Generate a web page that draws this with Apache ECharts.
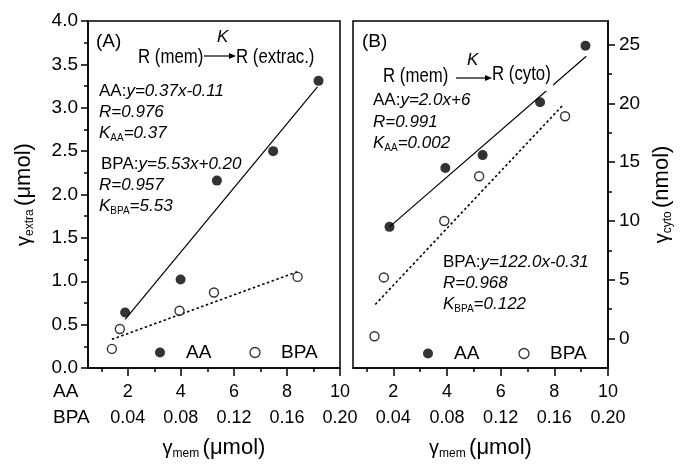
<!DOCTYPE html>
<html>
<head>
<meta charset="utf-8">
<script src="https://cdn.jsdelivr.net/npm/echarts@6/dist/echarts.min.js"></script>
<style>
  html, body { margin: 0; padding: 0; background: #fff; }
  #chart { width: 682px; height: 465px; }
</style>
</head>
<body>
<div id="chart"></div>
<script>
// x ticks (AA row and BPA row)
const aaTicks = [2, 4, 6, 8, 10]
const aaMinor = [1, 3, 5, 7, 9]
const bpaTicks = ['0.04', '0.08', '0.12', '0.16', '0.20']
// right y axis of panel B
const cytoTicks = [0, 5, 10, 15, 20, 25]
const cytoMinor = [2.5, 7.5, 12.5, 17.5, 22.5]

// panel A: extracellular
const aaXA = [1.90, 3.99, 5.36, 7.48, 9.19]
const aaYA = [0.64, 1.02, 2.16, 2.50, 3.31]
const bpaXA = [0.028, 0.034, 0.079, 0.105, 0.168]
const bpaYA = [0.22, 0.45, 0.66, 0.87, 1.05]
const aaFitXA = [1.90, 9.15]
const aaFitYA = [0.56, 3.24]
const bpaFitXA = [0.028, 0.168]
const bpaFitYA = [0.33, 1.11]

// panel B: cytoplasm
const aaXB = [1.86, 3.94, 5.33, 7.47, 9.16]
const aaYB = [9.5, 14.5, 15.6, 20.1, 24.9]
const bpaXB = [0.026, 0.033, 0.078, 0.104, 0.168]
const bpaYB = [0.2, 5.2, 10.0, 13.8, 18.9]
const aaFitXB = [1.86, 9.19]
const aaFitYB = [9.5, 24.0]
const bpaFitXB = [0.0266, 0.166]
const bpaFitYB = [2.9, 19.8]

const FONT = "'Liberation Sans', Arial, sans-serif"

function pairs(xs, ys) {
  return xs.map((x, i) => [x, ys[i]])
}

function xLabel(v) {
  const i = aaTicks.indexOf(v)
  return i < 0 ? '' : aaTicks[i] + '\n' + bpaTicks[i]
}

// axis name rich text
const nameRich = {
  g: { fontFamily: FONT, fontSize: 20, color: '#000' },
  s: { fontFamily: FONT, fontSize: 12, color: '#000', padding: [12, 0, 0, 0] },
  u: { fontFamily: FONT, fontSize: 22, color: '#000' }
}

function mainX(grid) {
  return {
    type: 'value', gridIndex: grid, min: 0.5, max: 10, position: 'bottom',
    axisLine: { onZero: false, lineStyle: { color: '#000', width: 1.5 } },
    axisTick: { show: true, customValues: aaTicks, length: 8, lineStyle: { color: '#000', width: 1.5 } },
    axisLabel: {
      customValues: aaTicks, formatter: xLabel, color: '#000',
      fontFamily: FONT, fontSize: 18, lineHeight: 26, margin: 11
    },
    splitLine: { show: false },
    name: '{g|γ}{s|mem} {u|(μmol)}',
    nameLocation: 'middle', nameGap: 68,
    nameTextStyle: { rich: nameRich }
  }
}

function minorX(grid) {
  return {
    type: 'value', gridIndex: grid, min: 0.5, max: 10, position: 'bottom',
    axisLine: { show: false, onZero: false }, axisLabel: { show: false }, splitLine: { show: false },
    axisTick: { show: true, customValues: aaMinor, length: 4, lineStyle: { color: '#000', width: 1.5 } }
  }
}

function bpaX(grid) {
  return { type: 'value', gridIndex: grid, min: 0.01, max: 0.2, show: false }
}

function scatterAA(xi, yi, data) {
  return {
    name: 'AA', type: 'scatter', xAxisIndex: xi, yAxisIndex: yi, data: data,
    symbol: 'circle', symbolSize: 10, itemStyle: { color: '#000' }, z: 4
  }
}

function scatterBPA(xi, yi, data) {
  return {
    name: 'BPA', type: 'scatter', xAxisIndex: xi, yAxisIndex: yi, data: data,
    symbol: 'circle', symbolSize: 9,
    itemStyle: { color: '#fff', borderColor: '#000', borderWidth: 1.4 }, z: 4
  }
}

function fit(xi, yi, data, dotted) {
  return {
    type: 'line', xAxisIndex: xi, yAxisIndex: yi, data: data, symbol: 'none',
    silent: true, z: 3,
    lineStyle: { color: '#000', width: dotted ? 1.6 : 1.2, type: dotted ? [2.5, 2.5] : 'solid' }
  }
}

// text placed by its left edge; sx squeezes it a little (the original face is narrow)
function txt(x, y, text, rich, sx, bg) {
  return {
    type: 'text', x: x, y: y, z: 100, scaleX: sx || 1,
    style: {
      text: text, rich: rich, verticalAlign: 'middle', fill: '#000',
      backgroundColor: bg || 'transparent', padding: bg ? [3, 3, 6, 0] : 0
    }
  }
}

function legendAt(left, top, gap) {
  return {
    left: left, top: top, padding: 0, icon: 'circle', itemWidth: 10, itemHeight: 10,
    itemGap: gap, selectedMode: false,
    data: [
      { name: 'AA' },
      { name: 'BPA', itemStyle: { color: '#fff', borderColor: '#000', borderWidth: 1.3 } }
    ],
    textStyle: { fontFamily: FONT, fontSize: 19, color: '#000', padding: [0, 0, 0, 16] }
  }
}

const eqRich = {
  n: { fontFamily: FONT, fontSize: 17, color: '#000' },
  i: { fontFamily: FONT, fontSize: 17, fontStyle: 'italic', color: '#000' },
  s: { fontFamily: FONT, fontSize: 10, color: '#000', padding: [11, 0, 0, 0] }
}
const headRich = {
  r: { fontFamily: FONT, fontSize: 21, color: '#000' },
  p: { fontFamily: FONT, fontSize: 19, color: '#000' },
  k: { fontFamily: FONT, fontSize: 17, fontStyle: 'italic', color: '#000' }
}

function arrow(x1, x2, y) {
  return [
    { type: 'line', z: 100, shape: { x1: x1, y1: y, x2: x2 - 5, y2: y }, style: { stroke: '#000', lineWidth: 1.2 } },
    { type: 'polygon', z: 100, shape: { points: [[x2 - 7, y - 3], [x2, y], [x2 - 7, y + 3]] }, style: { fill: '#000' } }
  ]
}

const chart = echarts.init(document.getElementById('chart'), null, { renderer: 'canvas' })

chart.setOption({
  backgroundColor: '#fff',
  animation: false,
  grid: [
    { left: 88, top: 21, width: 252, height: 347, show: true, borderColor: '#000', borderWidth: 1.5 },
    { left: 353, top: 21, width: 255, height: 347, show: true, borderColor: '#000', borderWidth: 1.5 }
  ],
  xAxis: [
    mainX(0), minorX(0), bpaX(0),
    mainX(1), minorX(1), bpaX(1)
  ],
  yAxis: [
    {
      type: 'value', gridIndex: 0, min: 0, max: 4, interval: 0.5, position: 'left',
      axisLine: { onZero: false, lineStyle: { color: '#000', width: 1.5 } },
      axisTick: { show: true, length: 7, lineStyle: { color: '#000', width: 1.5 } },
      minorTick: { show: true, splitNumber: 2, length: 4, lineStyle: { color: '#000', width: 1.5 } },
      axisLabel: { formatter: v => v.toFixed(1), color: '#000', fontFamily: FONT, fontSize: 19, margin: 10 },
      splitLine: { show: false }, minorSplitLine: { show: false },
      name: '{g|γ}{s|extra} {u|(μmol)}', nameLocation: 'middle', nameGap: 52, nameRotate: 90,
      nameTextStyle: { rich: nameRich }
    },
    {
      type: 'value', gridIndex: 1, min: -2.5, max: 27, position: 'right',
      axisLine: { onZero: false, lineStyle: { color: '#000', width: 1.5 } },
      axisTick: { show: true, customValues: cytoTicks, length: 7, lineStyle: { color: '#000', width: 1.5 } },
      axisLabel: { customValues: cytoTicks, color: '#000', fontFamily: FONT, fontSize: 19, margin: 11 },
      splitLine: { show: false },
      name: '{g|γ}{s|cyto} {u|(nmol)}', nameLocation: 'middle', nameGap: 42, nameRotate: 90,
      nameTextStyle: { rich: nameRich }
    },
    {
      type: 'value', gridIndex: 1, min: -2.5, max: 27, position: 'right',
      axisLine: { show: false, onZero: false }, axisLabel: { show: false }, splitLine: { show: false },
      axisTick: { show: true, customValues: cytoMinor, length: 4, lineStyle: { color: '#000', width: 1.5 } }
    }
  ],
  legend: [
    legendAt(155, 343, 38),
    legendAt(423, 344, 39)
  ],
  series: [
    fit(0, 0, pairs(aaFitXA, aaFitYA), false),
    fit(2, 0, pairs(bpaFitXA, bpaFitYA), true),
    scatterAA(0, 0, pairs(aaXA, aaYA)),
    scatterBPA(2, 0, pairs(bpaXA, bpaYA)),
    fit(3, 1, pairs(aaFitXB, aaFitYB), false),
    fit(5, 1, pairs(bpaFitXB, bpaFitYB), true),
    scatterAA(3, 1, pairs(aaXB, aaYB)),
    scatterBPA(5, 1, pairs(bpaXB, bpaYB))
  ],
  graphic: [
    // row labels under panel A
    txt(53, 392, '{p|AA}', headRich),
    txt(53, 418, '{p|BPA}', headRich),
    // panel A header
    txt(96, 42, '{p|(A)}', headRich),
    txt(217, 37, '{k|K}', headRich),
    txt(138, 57, '{r|R (mem)}', headRich, 0.8),
    ...arrow(204, 236, 56),
    txt(236, 57, '{r|R (extrac.)}', headRich, 0.8),
    txt(99, 91, '{n|AA:}{i|y=0.37x-0.11}', eqRich),
    txt(99, 112, '{i|R=0.976}', eqRich),
    txt(99, 133, '{i|K}{s|AA}{i|=0.37}', eqRich),
    txt(101, 164, '{n|BPA:}{i|y=5.53x+0.20}', eqRich),
    txt(99, 185, '{i|R=0.957}', eqRich),
    txt(99, 206, '{i|K}{s|BPA}{i|=5.53}', eqRich),
    // panel B header
    txt(362, 42, '{p|(B)}', headRich),
    txt(467, 60, '{k|K}', headRich),
    txt(383, 76, '{r|R (mem)}', headRich, 0.8),
    ...arrow(456, 492, 78),
    txt(492, 76, '{r|R (cyto)}', headRich, 0.8, '#fff'),
    txt(373, 100, '{n|AA:}{i|y=2.0x+6}', eqRich),
    txt(373, 122, '{i|R=0.991}', eqRich),
    txt(373, 143, '{i|K}{s|AA}{i|=0.002}', eqRich),
    txt(443, 262, '{n|BPA:}{i|y=122.0x-0.31}', eqRich),
    txt(443, 283, '{i|R=0.968}', eqRich),
    txt(443, 304, '{i|K}{s|BPA}{i|=0.122}', eqRich)
  ]
})
</script>
</body>
</html>
